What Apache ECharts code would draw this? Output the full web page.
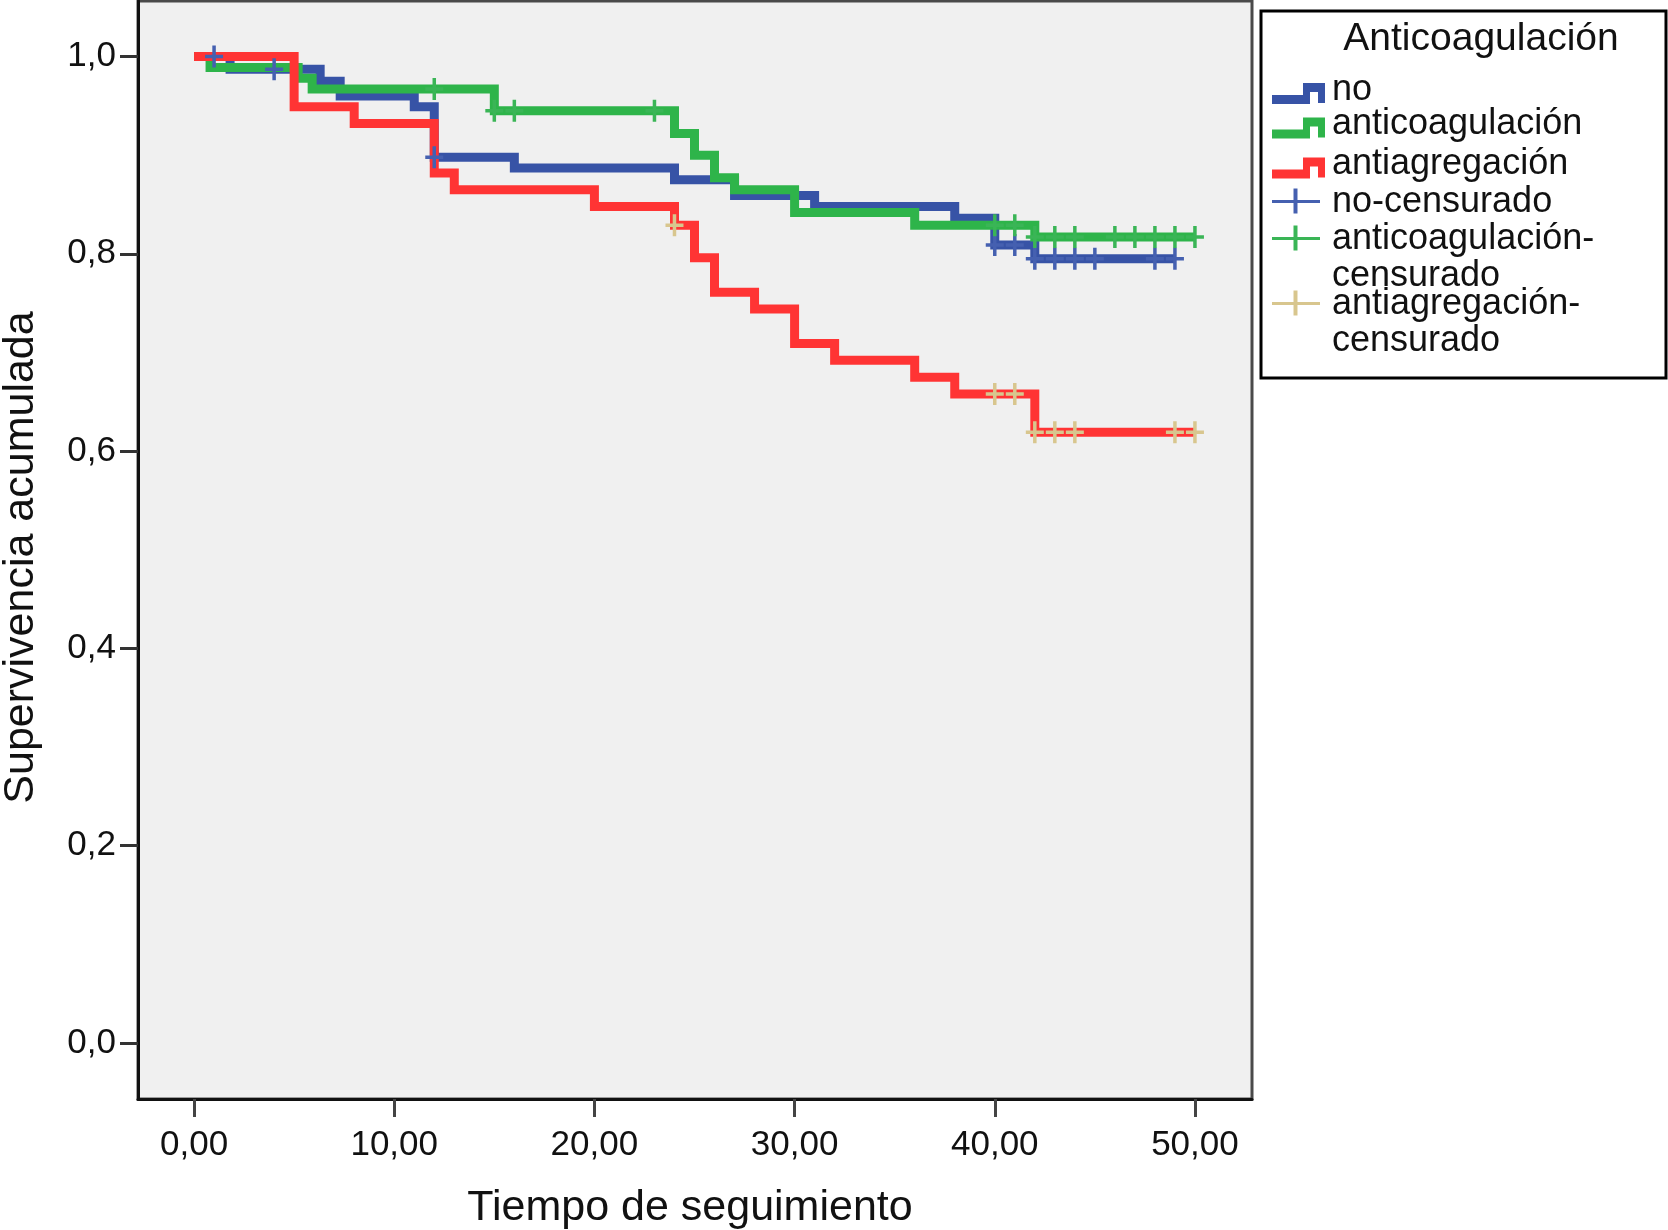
<!DOCTYPE html>
<html><head><meta charset="utf-8">
<script src="https://cdn.jsdelivr.net/npm/echarts@6/dist/echarts.min.js"></script>
<style>html,body{margin:0;padding:0;background:#fff}#c{width:1668px;height:1230px}</style>
</head><body><div id="c"></div>
<script>
// ---- data ----
const seriesNames = ['no', 'anticoagulación', 'antiagregación'];
const censorNames = ['no-censurado', 'anticoagulación-censurado', 'antiagregación-censurado'];
const legendTitle = 'Anticoagulación';
const legendLabels = ['no', 'anticoagulación', 'antiagregación', 'no-censurado', 'anticoagulación-\ncensurado', 'antiagregación-\ncensurado'];
const xTicks = [0, 10, 20, 30, 40, 50];
const yTicks = [0, 0.2, 0.4, 0.6, 0.8, 1.0];
const xTitle = 'Tiempo de seguimiento';
const yTitle = 'Supervivencia acumulada';

const curveNo = [[0,1.0],[1.8,0.987],[6.3,0.975],[7.3,0.960],[11,0.949],[12,0.898],[16,0.887],[24,0.875],[27,0.859],[31,0.848],[38,0.836],[40,0.809],[42,0.795],[49,0.795]];
const curveAnticoag = [[0,1.0],[0.8,0.989],[5.2,0.978],[5.9,0.967],[15,0.945],[24,0.922],[25,0.900],[26,0.877],[27,0.865],[30,0.842],[36,0.829],[42,0.817],[50,0.817]];
const curveAntiagreg = [[0,1.0],[5,0.949],[8,0.932],[12,0.882],[13,0.865],[20,0.848],[24,0.829],[25,0.796],[26,0.761],[28,0.744],[30,0.709],[32,0.692],[36,0.675],[38,0.658],[42,0.619],[50,0.619]];

const censNo = [[1,1.0],[4,0.987],[12,0.898],[40,0.809],[41,0.809],[42,0.795],[43,0.795],[44,0.795],[45,0.795],[48,0.795],[49,0.795]];
const censAnticoag = [[12,0.967],[15,0.945],[16,0.945],[23,0.945],[40,0.829],[41,0.829],[42,0.817],[43,0.817],[44,0.817],[46,0.817],[47,0.817],[48,0.817],[49,0.817],[50,0.817]];
const censAntiagreg = [[24,0.829],[40,0.658],[41,0.658],[42,0.619],[43,0.619],[44,0.619],[49,0.619],[50,0.619]];

// ---- styles ----
const lineColors = ['#3753a6', '#2eb44a', '#ff3434'];
const censorColors = ['#4560b0', '#3ab556', '#d8c68e'];
const FONT = '"Liberation Sans", Arial, Helvetica, sans-serif';
const curves = [curveNo, curveAnticoag, curveAntiagreg];
const censors = [censNo, censAnticoag, censAntiagreg];
const crossPath = 'path://M0,9.25H18V12.75H0Z M7.25,0H10.75V22H7.25Z';

const series = [];
curves.forEach((d, i) => series.push({
  name: seriesNames[i], type: 'line', step: 'end', data: d, showSymbol: false,
  lineStyle: { color: lineColors[i], width: 9, join: 'miter', cap: 'butt' },
  itemStyle: { color: lineColors[i] }, emphasis: { disabled: true }, silent: true, z: 2
}));
censors.forEach((d, i) => series.push({
  name: censorNames[i], type: 'scatter', data: d, symbol: crossPath, symbolSize: [18, 22],
  itemStyle: { color: censorColors[i], opacity: 1 }, emphasis: { disabled: true }, silent: true, z: 3
}));

// ---- legend (drawn as graphics) ----
const LG = { x: 1261, y: 11, w: 405, h: 367, textX: 1332, iconX: 1272 };
const baselines = [101.5, 136, 176, 214, 251, 316];
const lineGap = 36.7;
const fsItem = 36, fsTitle = 39;
const graphics = [];
graphics.push({ type: 'rect', shape: { x: LG.x, y: LG.y, width: LG.w, height: LG.h }, style: { fill: '#fff', stroke: '#000', lineWidth: 3 }, silent: true });
graphics.push({ type: 'text', style: { x: 1481, y: 52 - 0.33 * fsTitle, text: legendTitle, font: `${fsTitle}px ${FONT}`, fill: '#111', align: 'center', verticalAlign: 'middle' }, silent: true });
legendLabels.forEach((lab, i) => {
  const b = baselines[i];
  lab.split('\n').forEach((t, k) => {
    graphics.push({ type: 'text', style: { x: LG.textX, y: b + k * lineGap - 0.33 * fsItem, text: t, font: `${fsItem}px ${FONT}`, fill: '#111', align: 'left', verticalAlign: 'middle' }, silent: true });
  });
  const x0 = LG.iconX;
  if (i < 3) {
    const top = b - 18.5;
    const P = [[0,12],[31,12],[31,0],[53,0],[53,20],[46,20],[46,9],[38,9],[38,21],[0,21]];
    graphics.push({ type: 'polygon', shape: { points: P.map(p => [x0 + p[0], top + p[1]]) }, style: { fill: lineColors[i] }, silent: true });
  } else {
    const c = censorColors[i - 3];
    const cy = b - 12.5;
    graphics.push({ type: 'rect', shape: { x: x0, y: cy - 1.5, width: 48, height: 3 }, style: { fill: c }, silent: true });
    graphics.push({ type: 'rect', shape: { x: x0 + 21.5, y: cy - 13, width: 4, height: 25 }, style: { fill: c }, silent: true });
  }
});

const chart = echarts.init(document.getElementById('c'), null, { renderer: 'canvas' });
chart.setOption({
  animation: false,
  backgroundColor: '#ffffff',
  textStyle: { fontFamily: FONT },
  grid: { left: 138, top: 1, width: 1114, height: 1098, show: true, backgroundColor: '#f0f0f0', borderColor: '#4a4a4a', borderWidth: 3, containLabel: false, outerBoundsMode: 'none' },
  xAxis: {
    type: 'value', min: -2.8, max: 52.85,
    name: xTitle, nameLocation: 'middle', nameGap: 88,
    nameTextStyle: { fontSize: 43, color: '#111', fontFamily: FONT, padding: [0, 10, 0, 0] },
    axisLine: { show: true, onZero: false, lineStyle: { color: '#111', width: 3 } },
    axisTick: { show: true, length: 18, lineStyle: { color: '#444', width: 3 }, customValues: xTicks },
    axisLabel: { fontSize: 35, color: '#111', margin: 29, customValues: xTicks, formatter: v => v.toFixed(2).replace('.', ',') },
    splitLine: { show: false }
  },
  yAxis: {
    type: 'value', min: -0.0568, max: 1.0563,
    name: yTitle, nameLocation: 'middle', nameGap: 95,
    nameTextStyle: { fontSize: 43, color: '#111', fontFamily: FONT, padding: [0, 15, 0, 0] },
    axisLine: { show: true, onZero: false, lineStyle: { color: '#111', width: 3 } },
    axisTick: { show: true, length: 18, lineStyle: { color: '#333', width: 3 }, customValues: yTicks },
    axisLabel: { fontSize: 35, color: '#111', margin: 22, customValues: yTicks, formatter: v => v.toFixed(1).replace('.', ',') },
    splitLine: { show: false }
  },
  series: series,
  graphic: graphics
});
</script></body></html>
